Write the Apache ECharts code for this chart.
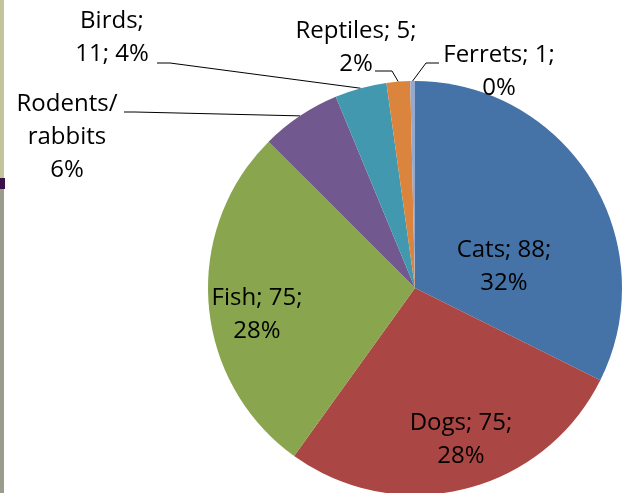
<!DOCTYPE html>
<html>
<head>
<meta charset="utf-8">
<script src="https://cdn.jsdelivr.net/npm/echarts@6/dist/echarts.min.js"></script>
<style>
  html, body { margin: 0; padding: 0; background: #ffffff; }
  #chart { width: 627px; height: 493px; }
</style>
</head>
<body>
<div id="chart"></div>
<script>
// ---- data ----
const categories = ['Cats', 'Dogs', 'Fish', 'Rodents/ rabbits', 'Birds', 'Reptiles', 'Ferrets'];
const values = [88, 75, 75, 17, 11, 5, 1];
const colors = ['#4572A7', '#AA4643', '#89A54E', '#71588F', '#4198AF', '#DB843D', '#93A9CF'];
const labelTemplates = [
  '{name}; {value};\n{pct}%',
  '{name}; {value};\n{pct}%',
  '{name}; {value};\n{pct}%',
  'Rodents/\nrabbits\n{pct}%',
  '{name};\n{value}; {pct}%',
  '{name}; {value};\n{pct}%',
  '{name}; {value};\n{pct}%'
];

// ---- label placement (layout, not data) ----
const labelCenters = [
  [504, 267], [461, 440], [257, 315], [67, 137], [112, 38], [356, 48], [499, 72]
];
const leaderEnds = {
  3: [[135, 112], [124, 112]],
  4: [[170, 63], [157, 63]],
  5: [[392, 71], [375, 71]],
  6: [[426, 63], [439, 63]]
};

const chart = echarts.init(document.getElementById('chart'), null, { renderer: 'canvas' });

const seriesData = categories.map((c, i) => ({
  name: c,
  value: values[i],
  itemStyle: { color: colors[i] },
  labelLine: { show: leaderEnds[i] !== undefined }
}));

chart.setOption({
  animation: false,
  backgroundColor: '#ffffff',
  graphic: [
    { type: 'rect', shape: { x: 0, y: 0, width: 4, height: 178 }, style: { fill: '#c4c49c' } },
    { type: 'rect', shape: { x: 0, y: 178, width: 5, height: 11 }, style: { fill: '#3b0f48' } },
    { type: 'rect', shape: { x: 0, y: 189, width: 4, height: 304 }, style: { fill: '#9c9c8c' } }
  ],
  series: [{
    type: 'pie',
    center: [415, 288],
    radius: 207,
    startAngle: 90,
    clockwise: true,
    avoidLabelOverlap: false,
    data: seriesData,
    itemStyle: { borderWidth: 0 },
    label: {
      show: true,
      position: 'outside',
      fontFamily: 'Open Sans',
      fontSize: 24,
      lineHeight: 33,
      color: '#000000',
      align: 'center',
      formatter: function (p) {
        return labelTemplates[p.dataIndex]
          .replace('{name}', p.name)
          .replace('{value}', p.value)
          .replace('{pct}', Math.round(p.percent));
      }
    },
    labelLine: {
      show: true,
      lineStyle: { color: '#000000', width: 1 }
    },
    labelLayout: function (params) {
      const i = params.dataIndex;
      const c = labelCenters[i];
      const res = { x: c[0], y: c[1], align: 'center', verticalAlign: 'middle', hideOverlap: false, moveOverlap: null };
      if (leaderEnds[i] && params.labelLinePoints) {
        const anchor = params.labelLinePoints[0];
        res.labelLinePoints = [anchor, leaderEnds[i][0], leaderEnds[i][1]];
      }
      return res;
    }
  }]
});
</script>
</body>
</html>
